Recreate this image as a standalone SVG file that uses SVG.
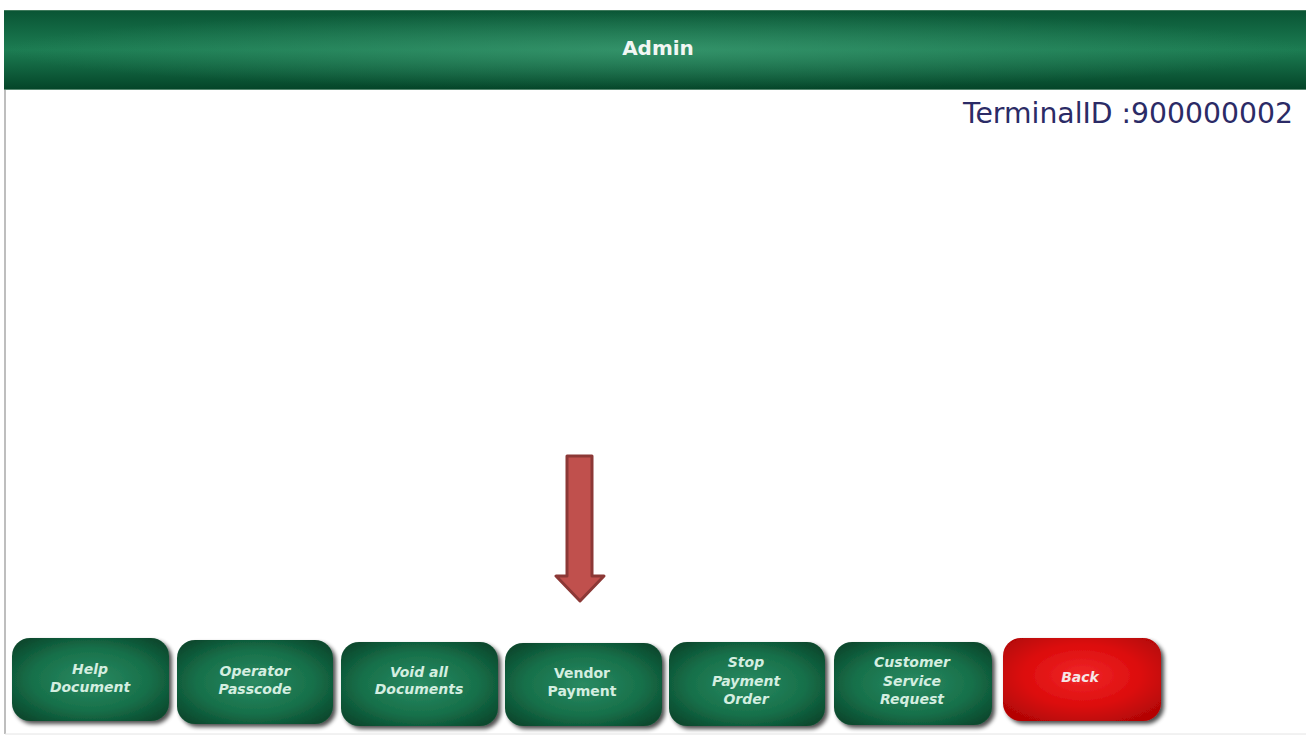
<svg xmlns="http://www.w3.org/2000/svg" width="1306" height="738" viewBox="0 0 1306 738">
<defs>
<linearGradient id="hdrV" x1="0" y1="0" x2="0" y2="1">
<stop offset="0" stop-color="#095434"/>
<stop offset="0.5" stop-color="#1c7c52"/>
<stop offset="1" stop-color="#044428"/>
</linearGradient>
<radialGradient id="hdrH" cx="0.5" cy="0.5" r="0.5">
<stop offset="0" stop-color="#4aa880" stop-opacity="0.5"/>
<stop offset="1" stop-color="#4aa880" stop-opacity="0"/>
</radialGradient>
<radialGradient id="btnG" cx="0.5" cy="0.5" r="0.62">
<stop offset="0" stop-color="#2a8a62"/>
<stop offset="0.6" stop-color="#17704a"/>
<stop offset="1" stop-color="#0a4a2e"/>
</radialGradient>
<radialGradient id="btnR" cx="0.5" cy="0.45" r="0.62">
<stop offset="0" stop-color="#f0282a"/>
<stop offset="0.6" stop-color="#dc0c0c"/>
<stop offset="1" stop-color="#b50606"/>
</radialGradient>
<filter id="sh" x="-10%" y="-10%" width="125%" height="130%">
<feGaussianBlur in="SourceAlpha" stdDeviation="2"/>
<feOffset dx="3" dy="3"/>
<feComponentTransfer><feFuncA type="linear" slope="0.7"/></feComponentTransfer>
<feMerge><feMergeNode/><feMergeNode in="SourceGraphic"/></feMerge>
</filter>
</defs>
<style>
.btn{fill:url(#btnG);filter:url(#sh)}
.btnr{fill:url(#btnR);filter:url(#sh)}
.bt{font-family:"DejaVu Sans",Verdana,sans-serif;font-size:14px;font-weight:bold;font-style:italic;fill:#d4eee0;text-anchor:middle}
.bn{font-style:normal}
</style>
<rect x="0" y="0" width="1306" height="738" fill="#ffffff"/>
<g id="frame">
<line x1="5" y1="90" x2="5" y2="734" stroke="#a8a8a8" stroke-width="1.5"/>
<line x1="5" y1="734" x2="1306" y2="734" stroke="#e4e4e4" stroke-width="1"/>
</g>
<g id="header">
<rect x="4" y="10" width="1302" height="80" fill="url(#hdrV)"/>
<rect x="4" y="10" width="1302" height="80" fill="url(#hdrH)"/>
<line x1="4" y1="10.5" x2="1306" y2="10.5" stroke="#3f7a5c" stroke-width="1"/>
<line x1="4" y1="89.5" x2="1306" y2="89.5" stroke="#5a8a72" stroke-width="1"/>
<text x="658" y="55" font-family="DejaVu Sans,Verdana,sans-serif" font-size="20" font-weight="bold" fill="#f2f7f4" text-anchor="middle">Admin</text>
</g>
<g id="terminal">
<text x="963" y="123" font-family="DejaVu Sans,Verdana,sans-serif" font-size="28" fill="#2b2b66" textLength="330" lengthAdjust="spacingAndGlyphs">TerminalID :900000002</text>
</g>
<g id="arrow">
<path d="M567,456 L592,456 L592,576 L604,576 L580,601 L556,576 L567,576 Z" fill="#c0504d" stroke="#8c3836" stroke-width="3" stroke-linejoin="round"/>
</g>
<g id="btn-help">
<rect class="btn" x="12" y="638" width="157" height="83" rx="18"/>
<text class="bt" x="90" y="674">Help</text>
<text class="bt" x="90" y="692">Document</text>
</g>
<g id="btn-operator">
<rect class="btn" x="177" y="640" width="156" height="84" rx="18"/>
<text class="bt" x="255" y="676">Operator</text>
<text class="bt" x="255" y="694">Passcode</text>
</g>
<g id="btn-void">
<rect class="btn" x="341" y="642" width="157" height="84" rx="18"/>
<text class="bt" x="419" y="677">Void all</text>
<text class="bt" x="419" y="694">Documents</text>
</g>
<g id="btn-vendor">
<rect class="btn" x="505" y="643" width="157" height="83" rx="18"/>
<text class="bt bn" x="582" y="678">Vendor</text>
<text class="bt bn" x="582" y="696">Payment</text>
</g>
<g id="btn-stop">
<rect class="btn" x="669" y="642" width="156" height="84" rx="18"/>
<text class="bt" x="746" y="667">Stop</text>
<text class="bt" x="746" y="686">Payment</text>
<text class="bt" x="746" y="704">Order</text>
</g>
<g id="btn-customer">
<rect class="btn" x="834" y="642" width="158" height="83" rx="18"/>
<text class="bt" x="912" y="667">Customer</text>
<text class="bt" x="912" y="686">Service</text>
<text class="bt" x="912" y="704">Request</text>
</g>
<g id="btn-back">
<rect class="btnr" x="1003" y="638" width="158" height="83" rx="18"/>
<text class="bt" x="1080" y="682" style="fill:#f6e6e6">Back</text>
</g>
</svg>
